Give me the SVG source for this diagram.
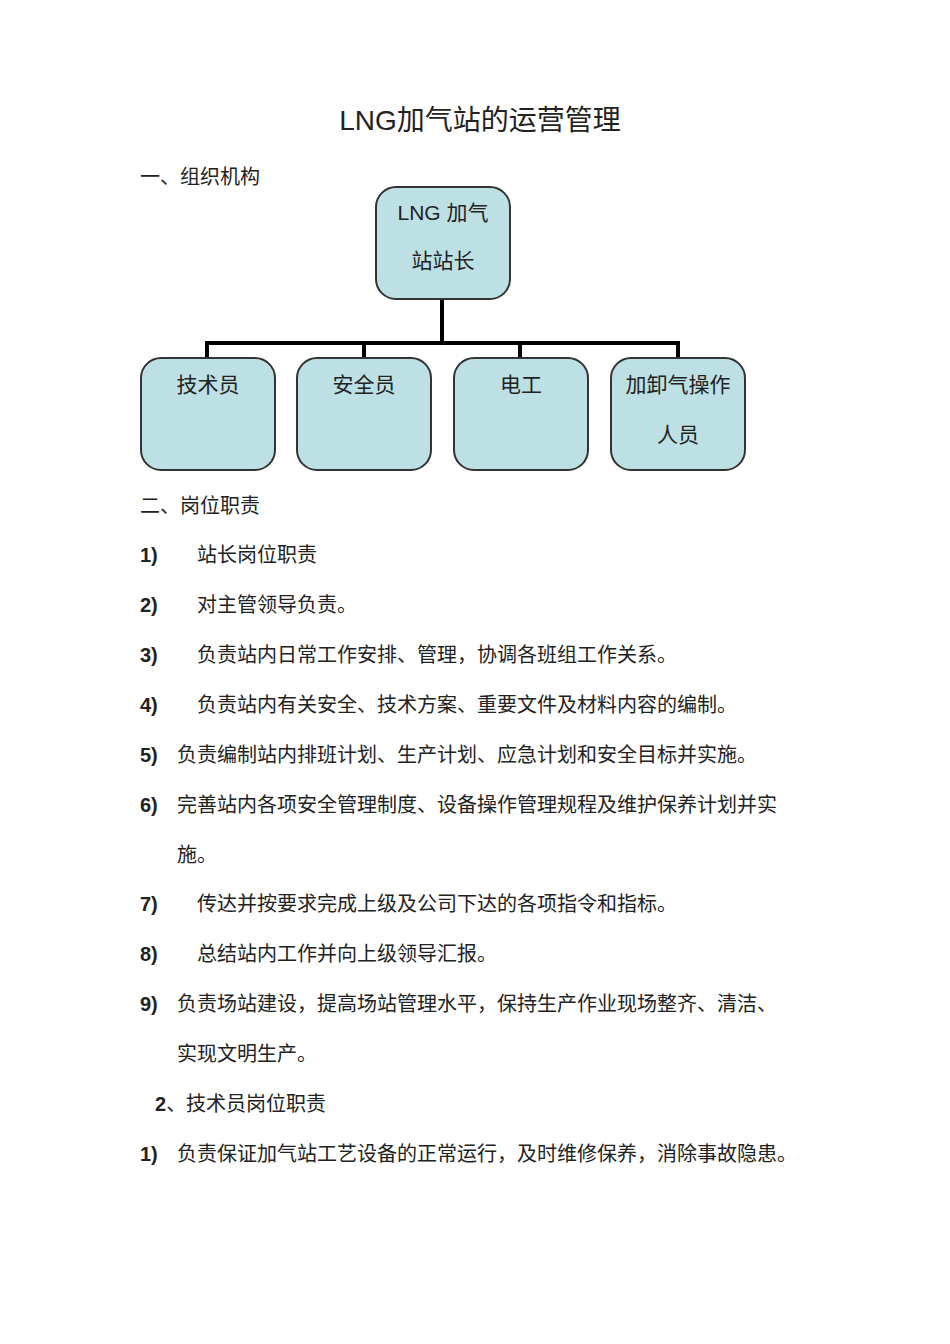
<svg xmlns="http://www.w3.org/2000/svg" width="950" height="1344" viewBox="0 0 950 1344">
<style>
.t{font-family:"Liberation Sans","Noto Sans CJK SC",sans-serif;font-size:20px;fill:#222}
.d{font-weight:bold}
.b{fill:#bde0e4;stroke:#333;stroke-width:2}
.n{font-family:"Liberation Sans","Noto Sans CJK SC",sans-serif;font-size:21px;fill:#222;text-anchor:middle}
.c{stroke:#000;stroke-width:4;fill:none}
</style>
<rect width="950" height="1344" fill="#fff"/>
<text x="480" y="130" text-anchor="middle" style="font-family:'Liberation Sans','Noto Sans CJK SC',sans-serif;font-size:28px;fill:#222">LNG加气站的运营管理</text>
<text class="t" x="140" y="184">一、组织机构</text>
<g id="connectors">
<path class="c" d="M442 299V343M207 358V343H678V358M364 343V358M520 343V358"/>
</g>
<g id="n0"><rect class="b" x="376" y="187" width="134" height="112" rx="20"/><text class="n" x="443" y="220">LNG 加气</text><text class="n" x="443" y="268">站站长</text></g>
<g id="n1"><rect class="b" x="141" y="358" width="134" height="112" rx="20"/><text class="n" x="208" y="392">技术员</text></g>
<g id="n2"><rect class="b" x="297" y="358" width="134" height="112" rx="20"/><text class="n" x="364" y="392">安全员</text></g>
<g id="n3"><rect class="b" x="454" y="358" width="134" height="112" rx="20"/><text class="n" x="521" y="392">电工</text></g>
<g id="n4"><rect class="b" x="611" y="358" width="134" height="112" rx="20"/><text class="n" x="678" y="392">加卸气操作</text><text class="n" x="678" y="442">人员</text></g>
<g class="t">
<text x="140" y="513">二、岗位职责</text>
<text class="d" x="140" y="562">1)</text><text x="197" y="562">站长岗位职责</text>
<text class="d" x="140" y="612">2)</text><text x="197" y="612">对主管领导负责。</text>
<text class="d" x="140" y="662">3)</text><text x="197" y="662">负责站内日常工作安排、管理，协调各班组工作关系。</text>
<text class="d" x="140" y="712">4)</text><text x="197" y="712">负责站内有关安全、技术方案、重要文件及材料内容的编制。</text>
<text class="d" x="140" y="762">5)</text><text x="177" y="762">负责编制站内排班计划、生产计划、应急计划和安全目标并实施。</text>
<text class="d" x="140" y="812">6)</text><text x="177" y="812">完善站内各项安全管理制度、设备操作管理规程及维护保养计划并实</text>
<text x="177" y="862">施。</text>
<text class="d" x="140" y="911">7)</text><text x="197" y="911">传达并按要求完成上级及公司下达的各项指令和指标。</text>
<text class="d" x="140" y="961">8)</text><text x="197" y="961">总结站内工作并向上级领导汇报。</text>
<text class="d" x="140" y="1011">9)</text><text x="177" y="1011">负责场站建设，提高场站管理水平，保持生产作业现场整齐、清洁、</text>
<text x="177" y="1061">实现文明生产。</text>
<text x="155" y="1111"><tspan class="d">2</tspan>、技术员岗位职责</text>
<text class="d" x="140" y="1161">1)</text><text x="177" y="1161">负责保证加气站工艺设备的正常运行，及时维修保养，消除事故隐患。</text>
</g>
</svg>
